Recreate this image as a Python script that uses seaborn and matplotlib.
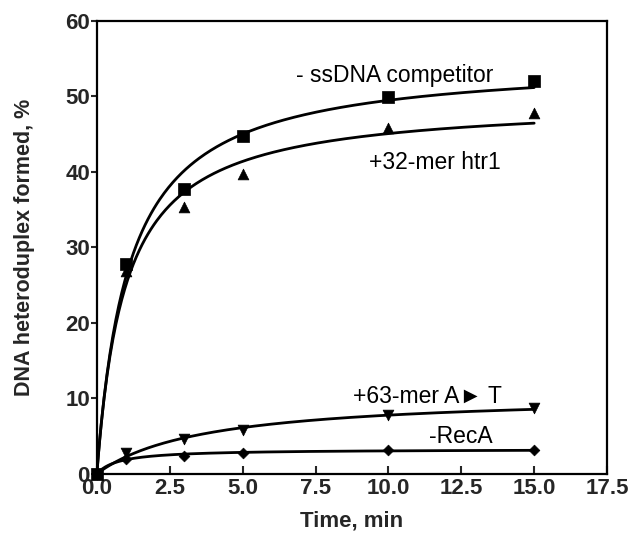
import numpy as np
import pandas as pd
import matplotlib
matplotlib.use('Agg')
import matplotlib.pyplot as plt
import seaborn as sns

sns.set_style('ticks')
plt.rcParams['font.family'] = ['Liberation Sans', 'DejaVu Sans']

# DATA
time_min = [0, 1, 3, 5, 10, 15]
no_competitor = [0, 27.8, 37.7, 44.8, 49.9, 52.0]
htr1_32mer = [0, 26.8, 35.4, 39.7, 45.8, 47.8]
mer63_AT = [0, 2.8, 4.6, 5.8, 7.8, 8.7]
no_recA = [0, 2.0, 2.4, 2.8, 3.1, 3.2]

series_names = ['- ssDNA competitor', '+32-mer htr1', '+63-mer A\u25ba T', '-RecA']
series_values = [no_competitor, htr1_32mer, mer63_AT, no_recA]
markers = ['s', '^', 'v', 'D']
marker_sizes = [75, 60, 60, 30]
label_pos = [(10.2, 52.8), (11.6, 41.2), (11.35, 10.3), (12.5, 5.0)]


def hyperbola_fit(t, y):
    # least squares fit of y = a*t/(b+t)
    t = np.asarray(t, float)
    y = np.asarray(y, float)
    best = None
    for b in np.linspace(0.05, 15, 3000):
        f = t / (b + t)
        a = (y * f).sum() / (f * f).sum()
        sse = ((y - a * f) ** 2).sum()
        if best is None or sse < best[0]:
            best = (sse, a, b)
    return best[1], best[2]


fig = plt.figure(figsize=(6.33, 5.33), dpi=100)
ax = fig.add_axes([0.153, 0.111, 0.806, 0.85])

for name, vals, mk, ms in zip(series_names, series_values, markers, marker_sizes):
    a, b = hyperbola_fit(time_min, vals)
    tt = np.linspace(0, max(time_min), 300)
    fit = pd.DataFrame({'t': tt, 'y': a * tt / (b + tt)})
    sns.lineplot(data=fit, x='t', y='y', color='black', linewidth=2, ax=ax)
    pts = pd.DataFrame({'t': time_min, 'y': vals})
    sns.scatterplot(data=pts, x='t', y='y', marker=mk, s=ms, color='black',
                    edgecolor='black', linewidth=0.5, ax=ax, zorder=3, clip_on=False)

for name, (lx, ly) in zip(series_names, label_pos):
    ax.text(lx, ly, name, ha='center', va='center', fontsize=16.5, color='black')

ax.set_xlim(0, 17.5)
ax.set_ylim(0, 60)
ax.set_xticks(np.arange(0, 17.6, 2.5))
ax.set_xticklabels(['%.1f' % v for v in np.arange(0, 17.6, 2.5)])
ax.set_yticks(range(0, 61, 10))
ax.tick_params(axis='x', direction='in', length=6, width=1.5, labelsize=16, pad=3)
ax.tick_params(axis='y', direction='out', length=4, width=1.5, labelsize=16, pad=1)
for lbl in ax.get_xticklabels() + ax.get_yticklabels():
    lbl.set_fontweight('bold')
for sp in ax.spines.values():
    sp.set_linewidth(1.6)
    sp.set_color('black')

ax.set_xlabel('Time, min', fontsize=16, fontweight='bold', labelpad=8)
ax.set_ylabel('DNA heteroduplex formed, %', fontsize=15.5, fontweight='bold', labelpad=22)

fig.savefig('out.png', dpi=100)
